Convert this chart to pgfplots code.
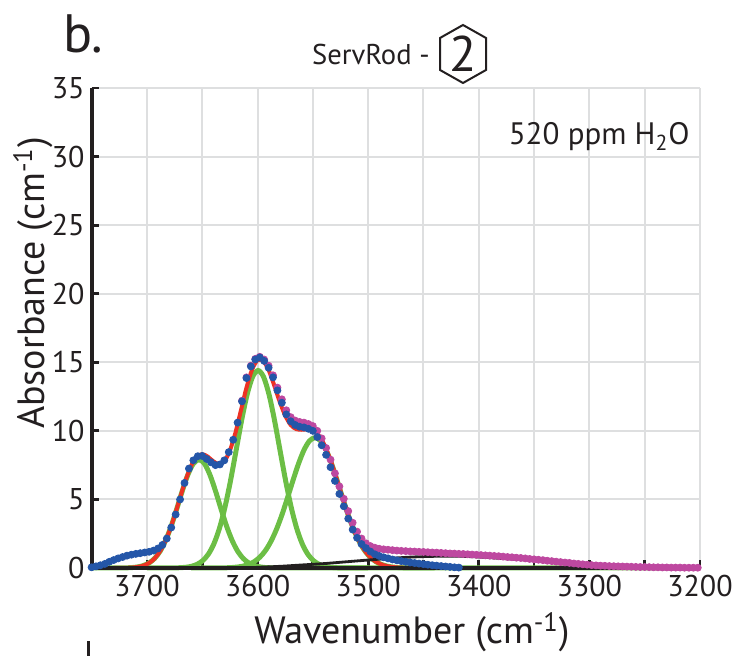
\documentclass[border=0pt]{standalone}
\usepackage{fontspec}
\setmainfont{PT Sans}
\usepackage{pgfplots}
\pgfplotsset{compat=1.18}
\definecolor{gridgray}{RGB}{222,223,224}
\definecolor{fitred}{RGB}{237,50,36}
\definecolor{compgreen}{RGB}{108,190,69}
\definecolor{datablue}{RGB}{36,86,168}
\definecolor{datamag}{RGB}{190,72,160}
\definecolor{axblack}{RGB}{35,31,32}
\begin{document}
\begin{tikzpicture}[x=1pt,y=1pt]
\begin{axis}[
  at={(45.8pt,44pt)}, anchor=south west,
  scale only axis, width=304.2pt, height=240pt,
  x dir=reverse, xmin=3200, xmax=3750, ymin=0, ymax=35,
  xtick={3200,3250,...,3700},
  xticklabels={3200,,3300,,3400,,3500,,3600,,3700},
  ytick={0,5,...,35},
  grid=major, major grid style={gridgray, line width=1pt},
  axis line style={draw=none},
  tick align=inside, xtick pos=left, ytick pos=left,
  major tick length=3.8pt,
  tick style={axblack, line width=1.4pt},
  tick label style={font=\fontsize{15}{18}\selectfont, text=axblack},
  /pgf/number format/assume math mode=true,
  clip=false,
]
% green components
\addplot[compgreen, line width=2.5pt, smooth] coordinates {
(3750,0) (3728,0.002) (3723,0.005) (3718,0.013) (3713,0.034) (3708,0.081) (3703,0.18) (3698,0.37) (3693,0.70) (3688,1.23) (3683,2.02) (3678,3.06) (3673,4.31) (3668,5.62) (3663,6.79) (3658,7.61) (3653,7.9) (3648,7.61) (3643,6.79) (3638,5.62) (3633,4.31) (3628,3.06) (3623,2.02) (3618,1.23) (3613,0.70) (3608,0.37) (3603,0.18) (3598,0.081) (3593,0.034) (3588,0.013) (3583,0.005) (3578,0.002) (3560,0) (3200,0)};
\addplot[compgreen, line width=2.5pt, smooth] coordinates {
(3700,0) (3679.5,0.003) (3674.5,0.009) (3669.5,0.023) (3664.5,0.055) (3659.5,0.126) (3654.5,0.27) (3649.5,0.54) (3644.5,1.00) (3639.5,1.75) (3634.5,2.87) (3629.5,4.41) (3624.5,6.33) (3619.5,8.51) (3614.5,10.71) (3609.5,12.62) (3604.5,13.93) (3599.5,14.4) (3594.5,13.93) (3589.5,12.62) (3584.5,10.71) (3579.5,8.51) (3574.5,6.33) (3569.5,4.41) (3564.5,2.87) (3559.5,1.75) (3554.5,1.00) (3549.5,0.54) (3544.5,0.27) (3539.5,0.126) (3534.5,0.055) (3529.5,0.023) (3524.5,0.009) (3519.5,0.003) (3500,0)};
\addplot[compgreen, line width=2.5pt, smooth] coordinates {
(3660,0) (3638,0.003) (3633,0.007) (3628,0.016) (3623,0.034) (3618,0.071) (3613,0.139) (3608,0.26) (3603,0.46) (3598,0.78) (3593,1.25) (3588,1.92) (3583,2.79) (3578,3.86) (3573,5.09) (3568,6.37) (3563,7.59) (3558,8.60) (3553,9.27) (3548,9.5) (3543,9.27) (3538,8.60) (3533,7.59) (3528,6.37) (3523,5.09) (3518,3.86) (3513,2.79) (3508,1.92) (3503,1.25) (3498,0.78) (3493,0.46) (3488,0.26) (3483,0.139) (3478,0.071) (3473,0.034) (3468,0.016) (3463,0.007) (3458,0.003) (3440,0)};
% red total fit
\addplot[fitred, line width=2pt, smooth] coordinates {
(3730,0) (3725,0.003) (3720,0.009) (3715,0.023) (3710,0.058) (3705,0.131) (3700,0.278) (3695,0.545) (3690,0.993) (3685,1.67) (3680,2.62) (3675,3.80) (3670,5.12) (3665,6.40) (3660,7.45) (3655,8.10) (3650,8.30) (3645,8.12) (3640,7.78) (3635,7.58) (3630,7.78) (3625,8.56) (3620,9.85) (3615,11.49) (3610,13.14) (3605,14.45) (3600,15.15) (3595,15.11) (3590,14.44) (3585,13.34) (3580,12.14) (3575,11.12) (3570,10.43) (3565,10.13) (3560,10.08) (3555,10.11) (3550,10.03) (3545,9.70) (3540,9.05) (3535,8.08) (3530,6.90) (3525,5.61) (3520,4.34) (3515,3.20) (3510,2.24) (3505,1.50) (3500,0.95) (3495,0.57) (3490,0.33) (3485,0.18) (3480,0.093) (3475,0.046) (3470,0.022) (3465,0.010) (3460,0.004) (3450,0)};
% magenta data
\addplot[only marks, mark=*, mark size=1.75pt, color=datamag] coordinates {
(3614,12.2) (3610,13.9) (3606,14.75) (3602,15.25) (3598,15.4) (3594,15.2) (3590,14.75) (3586,14.05) (3582,13.15) (3578,12.3) (3574,11.5) (3570,11.0) (3566,10.75) (3562,10.65) (3558,10.6) (3554,10.5) (3550,10.35) (3546,10.0) (3542,9.45) (3538,8.75) (3534,7.9) (3530,6.9) (3526,5.95) (3522,5.05) (3518,4.15) (3514,3.3) (3510,2.65) (3506,2.15) (3502,1.8) (3498,1.6) (3494,1.48)
(3490,1.40) (3486,1.36) (3482,1.33) (3478,1.30) (3474,1.27) (3470,1.25) (3466,1.23) (3462,1.21) (3458,1.20) (3454,1.18) (3450,1.17) (3446,1.15) (3442,1.13) (3438,1.12) (3434,1.10) (3430,1.08) (3426,1.06) (3422,1.05) (3418,1.03) (3414,1.02) (3410,1.00) (3406,0.98) (3402,0.96) (3398,0.94) (3394,0.92) (3390,0.90) (3386,0.88) (3382,0.86) (3378,0.83) (3374,0.80) (3370,0.78) (3366,0.75) (3362,0.73) (3358,0.70) (3354,0.66) (3350,0.63) (3346,0.60) (3342,0.57) (3338,0.53) (3334,0.50) (3330,0.46) (3326,0.43) (3322,0.40) (3318,0.37) (3314,0.33) (3310,0.30) (3306,0.27) (3302,0.24) (3298,0.21) (3294,0.19) (3290,0.17) (3286,0.16) (3282,0.14) (3278,0.13) (3274,0.12) (3270,0.11) (3266,0.10) (3262,0.09) (3258,0.08) (3254,0.07) (3250,0.07) (3246,0.06) (3242,0.05) (3238,0.05) (3234,0.04) (3230,0.04) (3226,0.03) (3222,0.03) (3218,0.03) (3214,0.02) (3210,0.02) (3206,0.02) (3202,0.02)};
% blue data
\addplot[only marks, mark=*, mark size=1.75pt, color=datablue] coordinates {
(3750,0.05) (3746,0.12) (3742,0.2) (3738,0.3) (3734,0.45) (3730,0.58) (3726,0.7) (3722,0.8) (3718,0.9) (3714,0.97) (3710,1.03) (3706,1.08) (3702,1.13) (3698,1.18) (3694,1.27) (3690,1.42) (3686,1.68) (3682,2.15) (3678,2.95) (3674,3.9) (3670,5.0) (3666,6.2) (3662,7.25) (3658,7.85) (3654,8.15) (3650,8.17) (3646,7.95) (3642,7.7) (3638,7.5) (3634,7.55) (3630,7.85) (3626,8.45) (3622,9.35) (3618,10.6) (3614,12.15) (3610,13.85) (3606,14.7) (3602,15.2) (3598,15.35) (3594,15.1) (3590,14.6) (3586,13.9) (3582,12.95) (3578,12.05) (3574,11.2) (3570,10.7) (3566,10.43) (3562,10.3) (3558,10.25) (3554,10.15) (3550,10.0) (3546,9.55) (3542,8.95) (3538,8.25) (3534,7.35) (3530,6.35) (3526,5.4) (3522,4.5) (3518,3.6) (3514,2.8) (3510,2.2) (3506,1.75) (3502,1.45) (3498,1.2) (3494,1.0) (3490,0.88) (3486,0.78) (3482,0.7) (3478,0.62) (3474,0.56) (3470,0.5) (3466,0.45) (3462,0.4) (3458,0.36) (3454,0.32) (3450,0.28) (3446,0.24) (3442,0.2) (3438,0.17) (3434,0.14) (3430,0.11) (3426,0.08) (3422,0.05) (3418,0.03)};
% black broad component
\addplot[axblack, line width=1.4pt, smooth] coordinates {
(3750,0) (3620,0) (3600,0.05) (3580,0.12) (3560,0.22) (3540,0.32) (3520,0.45) (3500,0.58) (3480,0.70) (3460,0.80) (3440,0.85) (3420,0.86) (3400,0.80) (3380,0.70) (3360,0.60) (3340,0.48) (3320,0.36) (3300,0.24) (3280,0.13) (3260,0.06) (3240,0.02) (3220,0) (3200,0)};
\draw[axblack, line width=2pt] (axis description cs:0,1) -- (axis description cs:0,0) -- (axis description cs:1,0);
\end{axis}
% labels
\node[anchor=center, font=\fontsize{19}{22}\selectfont, text=axblack] at (206pt,12pt) {Wavenumber (cm\textsuperscript{-1})};
\node[anchor=center, rotate=90, font=\fontsize{19}{22}\selectfont, text=axblack] at (16.5pt,186.5pt) {Absorbance (cm\textsuperscript{-1})};
\node[anchor=base west, inner sep=0pt, font=\fontsize{27}{30}\selectfont, text=axblack] at (31.5pt,301.5pt) {b.};
\node[anchor=base east, inner sep=0pt, font=\fontsize{14.3}{17}\selectfont, text=axblack] at (215pt,295.5pt) {ServRod -};
\draw[axblack, line width=1pt, line join=miter] (231.5pt,315.5pt) -- (243pt,309pt) -- (243pt,293pt) -- (231.5pt,286.5pt) -- (220pt,293pt) -- (220pt,309pt) -- cycle;
\node[anchor=center, inner sep=0pt, font=\fontsize{25}{28}\selectfont, text=axblack] at (231.5pt,301pt) {2};
\node[anchor=base east, inner sep=0pt, font=\fontsize{15.5}{18}\selectfont, text=axblack] at (345pt,255.5pt) {520 ppm H\textsubscript{2}O};
\fill[axblack] (43.5pt,0pt) rectangle (45pt,7.5pt);
\pgfresetboundingbox
\path[use as bounding box] (0,0) rectangle (375pt,328pt);
\end{tikzpicture}
\end{document}
